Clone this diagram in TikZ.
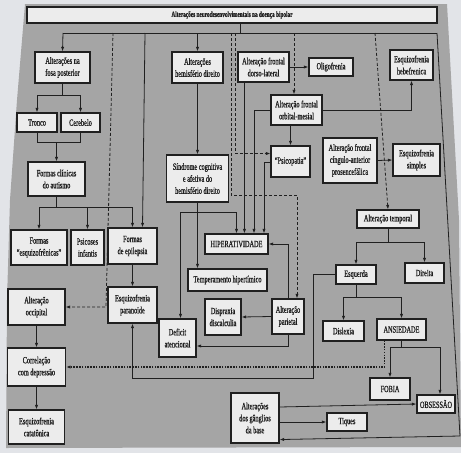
\documentclass[tikz,border=0pt]{standalone}
\usepackage{fontspec}
\setmainfont{Liberation Serif}
\newfontfamily\cond[FakeStretch=0.66,FakeBold=1.1]{Liberation Serif}
\usetikzlibrary{arrows.meta,calc}
\definecolor{bgc}{RGB}{226,228,232}
\definecolor{panelc}{RGB}{165,165,165}
\definecolor{boxc}{RGB}{236,236,236}
\definecolor{linec}{RGB}{32,32,32}
\begin{document}
\begin{tikzpicture}[x=1pt,y=-1pt,
  box/.style={draw=linec, fill=boxc, line width=1.1pt, inner sep=0.5pt, align=center, text=linec, font=\cond\fontsize{9.5}{12}\selectfont},
  sz/.style 2 args={minimum width=#1pt, minimum height=#2pt},
  ln/.style={draw=linec, line width=0.8pt},
  arr/.style={ln, -{Latex[length=4.5pt,width=3.2pt]}},
  dsh/.style={dash pattern=on 3pt off 2pt},
  dts/.style={line width=1.1pt, dash pattern=on 1.5pt off 1.3pt}]
\fill[bgc] (0,0) rectangle (461,453);
\fill[panelc] (25,4) -- (447,4) -- (459,220) -- (461,447) -- (6,448) -- (7,300) -- (10,200) -- (17,100) -- cycle;
\useasboundingbox (0,0) rectangle (461,453);

% nodes
\node[box, sz={410}{16}, font=\cond\bfseries\fontsize{8}{9}\selectfont] (title) at (232,15) {Alterações neurodesenvolvimentais na doença bipolar};
\node[box, sz={55}{31}] (fosa) at (62.5,67.5) {Alterações na\\fosa posterior};
\node[box, sz={40}{19}] (tronco) at (37,122.5) {Tronco};
\node[box, sz={39}{19}] (cerebelo) at (80.5,122.5) {Cerebelo};
\node[box, sz={57}{34}] (autismo) at (56.5,179) {Formas clínicas\\do autismo};
\node[box, sz={56}{35}] (esqf) at (39,247.5) {Formas\\“esquizofrênicas”};
\node[box, sz={33}{35}] (psicoses) at (87.5,247.5) {Psicoses\\infantis};
\node[box, sz={49}{36}] (epilepsia) at (132.5,246) {Formas\\de epilepsia};
\node[box, sz={57}{36}] (occipital) at (36.5,307) {Alteração\\occipital};
\node[box, sz={58}{38}] (correlacao) at (36.5,367) {Correlação\\com depressão};
\node[box, sz={56}{34}] (catatonica) at (36.5,427) {Esquizofrenia\\catatônica};
\node[box, sz={49}{36}] (paranoide) at (132.5,305) {Esquizofrenia\\paranoide};
\node[box, sz={51}{31}] (hemisf) at (197.5,67.5) {Alterações\\hemisfério direito};
\node[box, sz={62}{47}] (sindrome) at (197.5,178.5) {Síndrome cognitiva\\e afetiva do\\hemisfério direito};
\node[box, sz={63}{20}] (hiper) at (236.5,244) {HIPERATIVIDADE};
\node[box, sz={79}{22}] (temper) at (227.5,280) {Temperamento hipertímico};
\node[box, sz={36}{36}] (dispraxia) at (223,317) {Dispraxia\\discalculia};
\node[box, sz={32}{35}] (parietal) at (288,316.5) {Alteração\\parietal};
\node[box, sz={37}{38}] (deficit) at (177.5,338) {Deficit\\atencional};
\node[box, sz={51}{30}] (dorso) at (263.5,67) {Alteração frontal\\dorso-lateral};
\node[box, sz={44}{18}] (oligo) at (331,67) {Oligofrenia};
\node[box, sz={43}{30}] (hebe) at (411.5,65) {Esquizofrenia\\hebefrenica};
\node[box, sz={51}{30}] (orbital) at (296.5,110) {Alteração frontal\\orbital-mesial};
\node[box, sz={39}{31}] (psicopatia) at (290.5,161.5) {“Psicopatia”};
\node[box, sz={54}{45}] (cingulo) at (350,160.5) {Alteração frontal\\cíngulo-anterior\\prosencefálica};
\node[box, sz={47}{32}] (simples) at (416.5,160) {Esquizofrenia\\simples};
\node[box, sz={62}{18}] (temporal) at (388,219) {Alteração temporal};
\node[box, sz={40}{19}] (esquerda) at (356,274.5) {Esquerda};
\node[box, sz={39}{20}] (direita) at (424.5,273) {Direita};
\node[box, sz={41}{20}] (dislexia) at (343.5,331) {Dislexia};
\node[box, sz={49}{21}] (ansiedade) at (401.5,329.5) {ANSIEDADE};
\node[box, sz={40}{22}] (fobia) at (390,389) {FOBIA};
\node[box, sz={38}{18}] (obsessao) at (436,404) {OBSESSÃO};
\node[box, sz={48}{50}] (ganglios) at (255,418) {Alterações\\dos gânglios\\da base};
\node[box, sz={40}{18}] (tiques) at (347,422) {Tiques};

% top distribution line
\coordinate (tl) at (63,33);
\coordinate (tr) at (437,33);
\coordinate (br) at (460,436);
\coordinate (ts) at (240,33);
\draw[ln] (ts |- title.south) -- (ts);
\draw[ln] (tl) -- (tr);
\draw[arr] (tl) -- (fosa.north);
\coordinate (d1) at (113,33);
\coordinate (d1b) at (106,307);
\draw[arr,dsh] (d1) -- (d1b) -- (occipital.east);
\coordinate (e1) at (145,33);
\draw[arr] (e1) -- ($(epilepsia.north)+(10,0)$);
\draw[arr] (hemisf.north |- tl) -- (hemisf.north);
\coordinate (d2) at (231,33);
\coordinate (d2b) at (231,195);
\draw[arr,dsh] (d2) -- (d2b) -| ($(parietal.north)+(9,0)$);
\coordinate (d3) at (235,33);
\draw[arr,dsh] (d3) |- ($(psicopatia.west)+(0,-8)$);
\coordinate (on) at ($(orbital.north)+(-2.5,0)$);
\draw[arr,dsh] (on |- tl) -- (on);
\coordinate (d4) at (375,33);
\draw[arr,dsh] (d4) -- (temporal.north);
\draw[arr] (tr) -- (br) -- ($(ganglios.south east)+(0,-4)$);

% left column
\coordinate (fj) at ($(fosa.south)+(0,12)$);
\draw[ln] (fosa.south) -- (fj);
\draw[arr] (fj) -| (tronco.north);
\draw[arr] (fj) -| (cerebelo.north);
\coordinate (tj) at ($(tronco.south)+(0,10)$);
\draw[ln] (tronco.south) -- (tj) -| (cerebelo.south);
\draw[arr] (tj -| autismo.north) -- (autismo.north);
\coordinate (aj) at ($(autismo.south)+(0,11)$);
\draw[ln] (autismo.south) -- (aj);
\draw[arr] (aj) -| (esqf.north);
\draw[arr] (aj) -| (psicoses.north);
\draw[arr] (aj) -| (epilepsia.north);
\draw[arr] (epilepsia.south) -- (paranoide.north);
\draw[arr] (occipital.south) -- (correlacao.north);
\draw[arr] (correlacao.south) -- (catatonica.north);

% middle
\draw[arr] (hemisf.south) -- (sindrome.north);
\coordinate (sj) at ($(sindrome.south)+(0,10)$);
\draw[ln] (sindrome.south) -- (sj);
\draw[arr] (sj) -| ($(deficit.north)+(3,0)$);
\draw[arr] (sj) -- (sj |- temper.north);
\draw[arr] (sj) -| (hiper.north);
\coordinate (dl) at ($(dorso.south west)+(7,0)$);
\draw[arr] (dl) -- (dl |- hiper.north);
\draw[arr] (orbital.west) -| ($(hiper.north)+(17.5,0)$);
\draw[arr] ($(psicopatia.west)+(0,1)$) -| ($(hiper.north)+(27.5,0)$);
\draw[arr] (dorso.east) -- (oligo.west);
\draw[arr] (psicopatia.north |- orbital.south) -- (psicopatia.north);
\draw[arr] (orbital.east) -| (hebe.south);
\draw[arr] (cingulo.east) -- (simples.west);
\draw[arr] (parietal.north) |- (hiper.east);
\draw[arr] (parietal.west) -- (dispraxia.east);
\draw[arr] (parietal.south) |- ($(deficit.east)+(0,8)$);

% right
\coordinate (tmj) at ($(temporal.south)+(0,14)$);
\draw[ln] (temporal.south) -- (tmj);
\draw[arr] (tmj) -| (esquerda.north);
\draw[arr] (tmj) -| (direita.north);
\coordinate (ej) at ($(esquerda.south)+(0,13)$);
\draw[ln] (esquerda.south) -- (ej);
\draw[arr] (ej) -| (dislexia.north);
\draw[arr] (ej) -| (ansiedade.north);
\coordinate (anj) at ($(ansiedade.south)+(0,7)$);
\draw[ln] (ansiedade.south) -- (anj);
\draw[arr] (anj) -| (fobia.north);
\draw[arr] (anj) -| ($(obsessao.north)+(4,0)$);
\coordinate (ad) at ($(ansiedade.south west)+(8,0)$);
\draw[arr,dts] (ad) |- (correlacao.east);
\coordinate (eq1) at ($(esquerda.west)+(-22,0)$);
\coordinate (eq2) at ($(paranoide.south)+(0,55)$);
\draw[arr] (esquerda.west) -- (eq1) |- (eq2) -- (paranoide.south);
\draw[arr] ($(ganglios.east)+(0,-11)$) -- (obsessao.west);
\draw[arr] ($(ganglios.east)+(0,4)$) -- (tiques.west);
\end{tikzpicture}
\end{document}
